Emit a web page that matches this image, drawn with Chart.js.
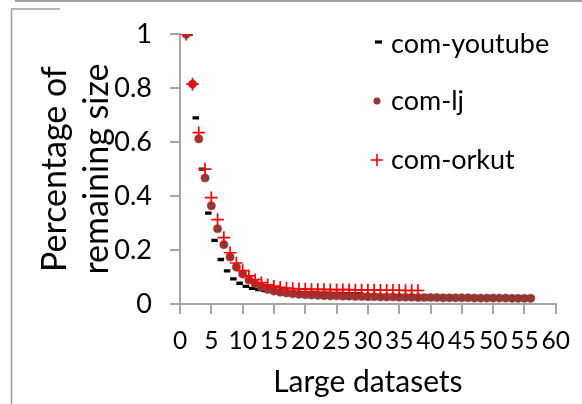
<!DOCTYPE html>
<html>
<head>
<meta charset="utf-8">
<script src="https://cdn.jsdelivr.net/npm/chart.js@4/dist/chart.umd.min.js"></script>
<style>
  html, body { margin: 0; padding: 0; background: #fff; }
  #wrap { position: relative; width: 582px; height: 404px; }
  canvas { display: block; }
</style>
</head>
<body>
<div id="wrap"><canvas id="chart" width="582" height="404"></canvas></div>
<script>
// Remaining size (fraction of the original) after each peeling round, per dataset.
const seriesNames = ['com-youtube', 'com-lj', 'com-orkut'];

const youtubeValues = [
  1.0, 0.69, 0.50, 0.337, 0.236, 0.165, 0.123, 0.093, 0.077, 0.065,
  0.058, 0.053, 0.050, 0.048, 0.046, 0.045, 0.044, 0.043, 0.042, 0.041,
  0.041, 0.040, 0.040, 0.039, 0.039, 0.038, 0.038, 0.038
];

const ljValues = [
  1.0, 0.815, 0.612, 0.467, 0.364, 0.279, 0.22, 0.174, 0.137, 0.111,
  0.089, 0.075, 0.063, 0.054, 0.048, 0.044, 0.041, 0.038, 0.036, 0.034,
  0.033, 0.032, 0.031, 0.030, 0.030, 0.029, 0.029, 0.028, 0.028, 0.027,
  0.027, 0.026, 0.026, 0.026, 0.025, 0.025, 0.025, 0.024, 0.024, 0.024,
  0.024, 0.023, 0.023, 0.023, 0.023, 0.023, 0.022, 0.022, 0.022, 0.022,
  0.022, 0.022, 0.021, 0.021, 0.021, 0.021
];

const orkutValues = [
  1.0, 0.815, 0.635, 0.50, 0.394, 0.313, 0.246, 0.19, 0.152, 0.124,
  0.104, 0.09, 0.079, 0.071, 0.066, 0.062, 0.059, 0.057, 0.056, 0.055,
  0.054, 0.054, 0.054, 0.053, 0.053, 0.053, 0.053, 0.052, 0.052, 0.052,
  0.052, 0.051, 0.051, 0.051, 0.051, 0.050, 0.050, 0.050
];

// Axis ticks
const xTicks = [0, 5, 10, 15, 20, 25, 30, 35, 40, 45, 50, 55, 60];
const yTicks = [0, 0.2, 0.4, 0.6, 0.8, 1];

const xTitle = 'Large datasets';
const yTitle = ['Percentage of', 'remaining size'];

const toPoints = vals => vals.map((v, i) => ({ x: i + 1, y: v }));

const FONT = 'Lato, "Open Sans", sans-serif';
const AXIS_GRAY = '#a6a6a6';

const datasets = [
  {
    label: seriesNames[0],
    data: toPoints(youtubeValues),
    pointStyle: 'dash',
    pointRadius: 6.5,
    borderWidth: 3.3,
    borderColor: '#000000',
    backgroundColor: '#000000',
    order: 3
  },
  {
    label: seriesNames[1],
    data: toPoints(ljValues),
    pointStyle: 'circle',
    pointRadius: 4.1,
    borderWidth: 0.5,
    borderColor: '#953735',
    backgroundColor: '#953735',
    order: 2
  },
  {
    label: seriesNames[2],
    data: toPoints(orkutValues),
    pointStyle: 'cross',
    pointRadius: 6.3,
    borderWidth: 1.7,
    borderColor: '#ff0000',
    backgroundColor: '#ff0000',
    order: 1
  }
];

// Legend placed inside the plot, one entry per row.
const insideLegend = {
  id: 'insideLegend',
  afterDraw(chart) {
    const ctx = chart.ctx;
    const rows = [
      { y: 44, marker: 'dash' },
      { y: 101, marker: 'circle' },
      { y: 160, marker: 'cross' }
    ];
    ctx.save();
    chart.data.datasets.forEach((ds, i) => {
      const r = rows[i];
      const mx = 377;
      ctx.strokeStyle = ds.borderColor;
      ctx.fillStyle = ds.backgroundColor;
      if (r.marker === 'dash') {
        ctx.lineWidth = 3.2;
        ctx.beginPath();
        ctx.moveTo(mx - 2, r.y - 2);
        ctx.lineTo(mx + 5, r.y - 2);
        ctx.stroke();
      } else if (r.marker === 'circle') {
        ctx.beginPath();
        ctx.arc(mx, r.y, 3.5, 0, Math.PI * 2);
        ctx.fill();
      } else {
        ctx.lineWidth = 1.6;
        ctx.beginPath();
        ctx.moveTo(mx - 6, r.y);
        ctx.lineTo(mx + 6, r.y);
        ctx.moveTo(mx, r.y - 6);
        ctx.lineTo(mx, r.y + 6);
        ctx.stroke();
      }
      ctx.fillStyle = '#000';
      ctx.font = '27px ' + FONT;
      ctx.textBaseline = 'middle';
      ctx.textAlign = 'left';
      ctx.fillText(ds.label, 391, r.y);
    });
    ctx.restore();
  }
};

// Thin gray frame around the figure.
const frame = {
  id: 'frame',
  beforeDraw(chart) {
    const ctx = chart.ctx;
    ctx.save();
    ctx.strokeStyle = '#a0a0a0';
    ctx.lineWidth = 2;
    ctx.beginPath();
    ctx.moveTo(15, 1);
    ctx.lineTo(582, 1);
    ctx.stroke();
    ctx.lineWidth = 1.5;
    ctx.beginPath();
    ctx.moveTo(11.5, 404);
    ctx.lineTo(11.5, 9);
    ctx.lineTo(60, 9);
    ctx.stroke();
    ctx.restore();
  }
};

new Chart(document.getElementById('chart'), {
  type: 'scatter',
  data: { datasets },
  options: {
    responsive: false,
    animation: false,
    layout: { padding: { top: 27, right: 18, bottom: 0, left: 0 } },
    plugins: {
      legend: { display: false },
      tooltip: { enabled: false }
    },
    scales: {
      x: {
        type: 'linear',
        min: 0,
        max: 60,
        afterBuildTicks(scale) { scale.ticks = xTicks.map(v => ({ value: v })); },
        afterFit(scale) { scale.height = 100; },
        ticks: {
          autoSkip: false,
          maxRotation: 0,
          minRotation: 0,
          padding: 12,
          color: '#000',
          callback: v => String(v),
          font: { family: FONT, size: 24.5 }
        },
        grid: {
          drawOnChartArea: false,
          drawTicks: true,
          tickLength: 10,
          color: AXIS_GRAY,
          lineWidth: 2
        },
        border: { color: AXIS_GRAY, width: 2 },
        title: {
          display: true,
          text: xTitle,
          color: '#000',
          font: { family: FONT, size: 30 },
          padding: { top: 0, bottom: 4 }
        }
      },
      y: {
        type: 'linear',
        min: 0,
        max: 1,
        afterBuildTicks(scale) { scale.ticks = yTicks.map(v => ({ value: v })); },
        afterFit(scale) { scale.width = 180; },
        ticks: {
          padding: 18,
          color: '#000',
          callback: v => String(v),
          font: { family: FONT, size: 27 }
        },
        grid: {
          drawOnChartArea: false,
          drawTicks: true,
          tickLength: 10,
          color: AXIS_GRAY,
          lineWidth: 2
        },
        border: { color: AXIS_GRAY, width: 2 },
        title: {
          display: true,
          text: yTitle,
          color: '#000',
          font: { family: FONT, size: 34, lineHeight: 1.24 },
          padding: { top: 34, bottom: 0 }
        }
      }
    }
  },
  plugins: [frame, insideLegend]
});
</script>
</body>
</html>
